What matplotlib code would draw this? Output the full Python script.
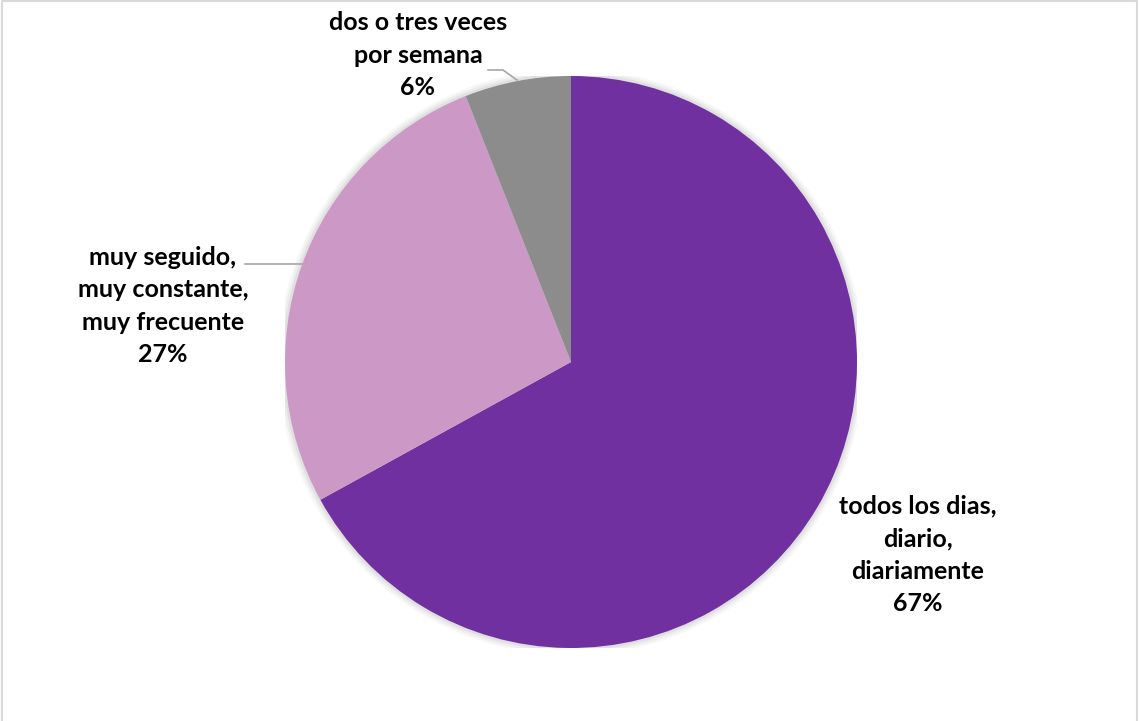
import matplotlib
matplotlib.use("Agg")
import matplotlib.pyplot as plt
from matplotlib.lines import Line2D

categories = ["todos los dias,\ndiario,\ndiariamente",
              "muy seguido,\nmuy constante,\nmuy frecuente",
              "dos o tres veces\npor semana"]
values = [67, 27, 6]
colors = ["#7030A0", "#CC99C6", "#8C8C8C"]

W, H = 1139, 721
fig = plt.figure(figsize=(W / 100, H / 100), dpi=100)
fig.patch.set_facecolor("white")

cx, cy, r = 571, 362, 286
ax = fig.add_axes([(cx - r) / W, (H - cy - r) / H, 2 * r / W, 2 * r / H])
ax.axis("off")

# soft shadow
for s, a in [(1.025, 0.03), (1.017, 0.04), (1.009, 0.05)]:
    circ = plt.Circle((0, 0.0), s, color="black", alpha=a, lw=0, zorder=0)
    ax.add_patch(circ)

wedges, _ = ax.pie(values, colors=colors, startangle=90, counterclock=False,
                   radius=1, wedgeprops=dict(linewidth=0))
for w in wedges:
    w.set_zorder(2)
ax.set_xlim(-1, 1)
ax.set_ylim(-1, 1)
ax.set_aspect("auto")

font = dict(family=["Lato", "DejaVu Sans"], fontsize=18, fontweight="bold", color="black")
total = sum(values)
label_pos = [(1.213, -0.675), (-1.427, 0.196), (-0.535, 1.073)]
for cat, v, (lx, ly) in zip(categories, values, label_pos):
    ax.text(lx, ly, f"{cat}\n{round(100 * v / total)}%", ha="center", va="center",
            linespacing=1.5, clip_on=False, **font)

# leader lines
ax.plot([-1.140, -0.941], [0.343, 0.343], color="#A6A6A6", lw=1.2, clip_on=False, zorder=3)
ax.plot([-0.290, -0.238, -0.189], [1.021, 1.021, 0.986], color="#A6A6A6", lw=1.2,
        clip_on=False, zorder=3)

# frame (left, top, right)
fc = "#D9D9D9"
fig.add_artist(Line2D([0.0015, 0.0015, 0.9985, 0.9985], [0.0, 0.998, 0.998, 0.0],
                      transform=fig.transFigure, color=fc, lw=1.5))

fig.savefig("out.png", dpi=100, facecolor="white")
